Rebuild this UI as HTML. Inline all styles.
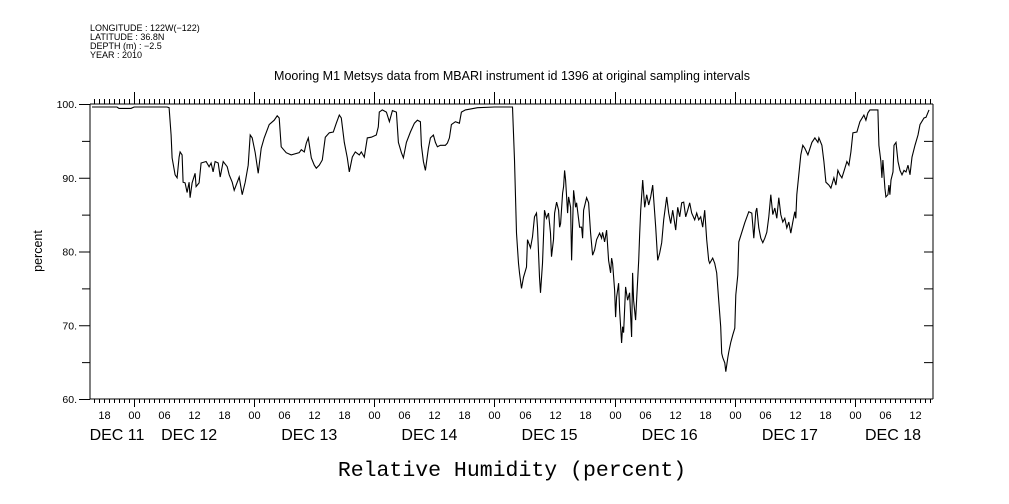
<!DOCTYPE html>
<html><head><meta charset="utf-8"><style>
html,body{margin:0;padding:0;background:#fff;}
svg{display:block;font-family:"Liberation Sans",sans-serif;}
</style></head><body>
<svg id="chart" width="1009" height="504" viewBox="0 0 1009 504" xmlns="http://www.w3.org/2000/svg">
<g font-size="9" fill="#000">
<text x="90" y="31">LONGITUDE : 122W(−122)</text>
<text x="90" y="40">LATITUDE : 36.8N</text>
<text x="90" y="49">DEPTH (m) : −2.5</text>
<text x="90" y="58">YEAR : 2010</text>
</g>
<text x="512" y="80" text-anchor="middle" font-size="12.5">Mooring M1 Metsys data from MBARI instrument id 1396 at original sampling intervals</text>
<text transform="translate(42,251) rotate(-90)" text-anchor="middle" font-size="12.5">percent</text>
<text x="512" y="476" text-anchor="middle" font-family="Liberation Mono, monospace" font-size="21.5">Relative Humidity (percent)</text>
<g id="axes"></g>
<g id="labels"></g>
<path id="series" fill="none" stroke="#000" stroke-width="1.1"/>
</svg>
<script>
// hours since Dec 12 00:00 (2010)
const hours = [-8.4,-3.4,-3,-0.6,0,6.6,7,7.4,7.6,8.2,8.6,9,9.2,9.6,9.8,10.2,10.6,11,11.2,11.6,12.2,12.4,13,13.4,14.4,15,15.4,15.8,16.2,16.8,17.2,17.8,18.6,19,19.6,20,21,21.6,22.2,22.8,23.2,23.6,24.2,24.8,25.4,26,27,28,28.6,29,29.4,30.4,31.4,33,33.4,34,34.4,34.8,35.4,36,36.4,37,37.6,38.2,39,39.8,40.4,41,41.4,42,42.6,43,43.6,44.2,45,45.4,46,46.6,47.4,48.4,48.8,49,49.6,50.4,51,51.6,52.4,52.8,53.4,53.8,54.4,55.2,56,56.6,57.2,57.4,57.8,58.2,58.8,59.2,59.8,60.2,60.6,61.2,62.2,62.6,63,63.4,64.2,65,65.4,66.2,67,68.6,72,75.6,76,76.4,76.8,77,77.4,77.8,78.4,78.6,79.2,79.6,80,80.4,80.6,81,81.2,81.6,82,82.4,82.8,83.2,83.4,83.8,84,84.4,84.8,85,85.2,85.6,85.8,86,86.2,86.6,86.8,87.2,87.4,87.8,88.2,88.4,89,89.4,89.6,89.8,90.4,90.8,91.2,91.6,92,92.4,93,93.4,93.6,94,94.4,94.8,95.2,95.4,95.6,96,96.2,96.4,96.8,97,97.4,97.6,97.8,98.2,98.6,99,99.4,99.6,99.8,100.2,100.4,100.8,101,101.2,101.6,102,102.4,102.8,103.2,103.6,104.2,104.6,105,105.4,105.8,106.4,106.8,107.2,107.6,108.2,108.6,109,109.4,109.8,110.2,110.6,111,111.4,112,112.4,112.8,113.2,113.6,114,114.4,114.8,115,115.6,116,116.4,116.8,117.2,117.4,117.6,118,118.2,118.6,118.8,119.2,119.6,120,120.2,120.6,120.8,121.4,122,122.8,123.4,123.8,124.2,124.4,124.8,125.2,125.6,126,126.4,126.8,127.2,127.6,128,128.4,128.8,129.2,129.6,130,130.4,130.8,131.2,131.6,132,132.2,132.4,132.8,133.2,133.6,134,134.6,135.4,136,136.6,136.8,137.4,137.8,138.2,138.8,139.2,139.8,140.2,140.6,141,141.4,142,142.4,142.8,143.2,143.6,144.4,145,145.8,146.2,146.6,147,148.6,148.8,149.2,149.4,149.6,150,150.2,150.6,150.8,151,151.2,151.6,151.8,152.2,152.6,153,153.4,153.8,154.2,154.6,155,155.4,156,156.6,157,157.8,158.2,158.8];
const humidity = [99.6,99.6,99.4,99.4,99.6,99.6,99.5,95.8,92.7,90.4,90,92.8,93.5,93.1,89.4,89.3,88,89.4,87.3,89.3,90.6,88.8,89.3,92,92.2,91.5,92,90.8,92.2,92,90.1,92.2,91.5,90.4,89.4,88.3,90.1,87.7,89.4,91.7,95.8,95.4,93.4,90.6,94,95.4,97.2,97.8,98.4,98.1,94.2,93.4,93.1,93.4,93.8,93.5,94.7,95.4,92.7,91.7,91.3,91.7,92.4,95.5,96.1,96.2,97.4,98.5,98.1,94.8,92.7,90.8,92.8,93.5,93.1,93.5,92.8,95.4,95.5,95.8,96.9,98.9,99.2,98.9,97.6,99.1,98.9,94.8,93.4,92.7,94.8,96.2,97.4,97.8,97.6,94.4,92.2,91,94,95.4,95.8,94.8,94.2,94.4,94.4,94.7,95.4,97.2,97.6,97.4,98.9,99.2,99.3,99.5,99.6,99.6,92.4,82.5,78.4,77.1,75,76.5,77.9,81.6,80.5,82,84.7,85.2,83.3,76.5,74.4,78.4,85.6,84.5,85.2,82.5,79.3,81.6,85.2,86.7,85.6,83.3,83.8,87.9,88.8,91,89.7,85.2,87.4,86,78.8,88.3,86,86.6,83.3,83.3,81.8,85.6,87.3,86.6,82.5,79.5,80.2,81.6,82.5,81.8,82.6,81.3,82.9,78.8,77.1,79.1,78.4,74.8,71.1,73.8,75.7,72.1,67.6,69.8,69,75.2,73.4,74.4,68.4,77.1,73.4,70.7,73.4,78.8,82.5,85.6,89.7,86,87.7,86.3,87.4,89,83.3,78.8,79.8,81.2,84.3,87.4,85.2,83.8,85.6,82.9,86,84.7,86.6,86.7,84.7,85.6,86.6,85.2,84.3,85.2,84.3,84.7,83.3,85.6,81.6,78.8,78.4,79.1,78.4,77.1,73.4,69.8,66.2,65.6,64.9,63.7,65.6,66.4,67.7,68.7,69.6,74.1,76.8,81.3,82.6,83.9,85.4,85.2,81.8,85.4,85.9,83.2,81.8,81.2,81.8,82.6,84.7,87.7,85,85.9,84.5,87.3,85,84,84.5,83.2,84,82.5,84,85.4,84.5,87.7,90.4,93.1,94.4,94,93.1,94.8,95.4,94.8,95.4,94.4,92.2,89.4,89,88.6,90,89,91,90.4,90,91.3,92.2,91.7,93.5,96.1,96.2,97.6,98.5,97.8,98.8,99.2,99.2,94.4,92.2,90,92.4,88.6,87.4,87.7,89,87.7,89.7,90.8,94.4,94.8,92.2,91,90.4,91,90.8,91.7,90.4,92.8,94.4,95.8,97.2,98.1,98.2,99.2];
const yTicks = [60,70,80,90,100];
const yTickLabels = ["60.","70.","80.","90.","100."];
const hourLabels = ["18","00","06","12"];
const dayLabels = ["DEC 11","DEC 12","DEC 13","DEC 14","DEC 15","DEC 16","DEC 17","DEC 18"];

const L=90,R=933,T=104,B=399, H0=-8.8, H1=159.6, Y0=60, Y1=100;
const xs = h => L + (h-H0)/(H1-H0)*(R-L);
const ys = v => B - (v-Y0)/(Y1-Y0)*(B-T);
const NS="http://www.w3.org/2000/svg";
const axes=document.getElementById('axes'), labels=document.getElementById('labels');
function ln(x1,y1,x2,y2,name){const e=document.createElementNS(NS,'line');
e.setAttribute('x1',x1);e.setAttribute('y1',y1);e.setAttribute('x2',x2);e.setAttribute('y2',y2);
e.setAttribute('stroke','#000');e.setAttribute('stroke-width','1');


axes.appendChild(e);}
function tx(x,y,s,size,anchor,name){const e=document.createElementNS(NS,'text');
e.setAttribute('x',x);e.setAttribute('y',y);e.setAttribute('font-size',size);e.setAttribute('text-anchor',anchor);e.textContent=s;


labels.appendChild(e);}
ln(L,T,R,T,'top-axis');ln(L,B,R,B,'bottom-axis');ln(L,T,L,B,'left-axis');ln(R,T,R,B,'right-axis');
for(let v=60;v<=100;v+=5){const y=ys(v)+0.5;const major=v%10===0;
 ln(major?79:82,y,L,y,'y-tick');
 if(v>60&&v<100) ln(R,y,R-9,y,'y-tick-right');}
yTicks.forEach((v,i)=>tx(77,ys(v)+4,yTickLabels[i],10.5,'end','y-tick-label'));
for(let h=Math.ceil(H0);h<=H1;h++){const x=Math.round(xs(h))+0.5;const day=((h%24)+24)%24===0;
 ln(x,T,x,T-(day?12:5),'x-tick-top');
 ln(x,B,x,B+(day?8:4),'x-tick-bottom');
 if(((h%6)+6)%6===0){const hh=((h%24)+24)%24;tx(x,419,hourLabels[(hh/6+1)%4],11,'middle','hour-label');}}
dayLabels.forEach((d,i)=>{const day=i-1;let c=xs(day*24+12)-5;if(i===0)c=117;if(i===7)c=893;
 tx(c,440,d,16,'middle','day-label');});
let dstr='';hours.forEach((h,i)=>{dstr+=(i?'L':'M')+xs(h).toFixed(1)+' '+ys(humidity[i]).toFixed(1);});
document.getElementById('series').setAttribute('d',dstr);
</script>
</body></html>
